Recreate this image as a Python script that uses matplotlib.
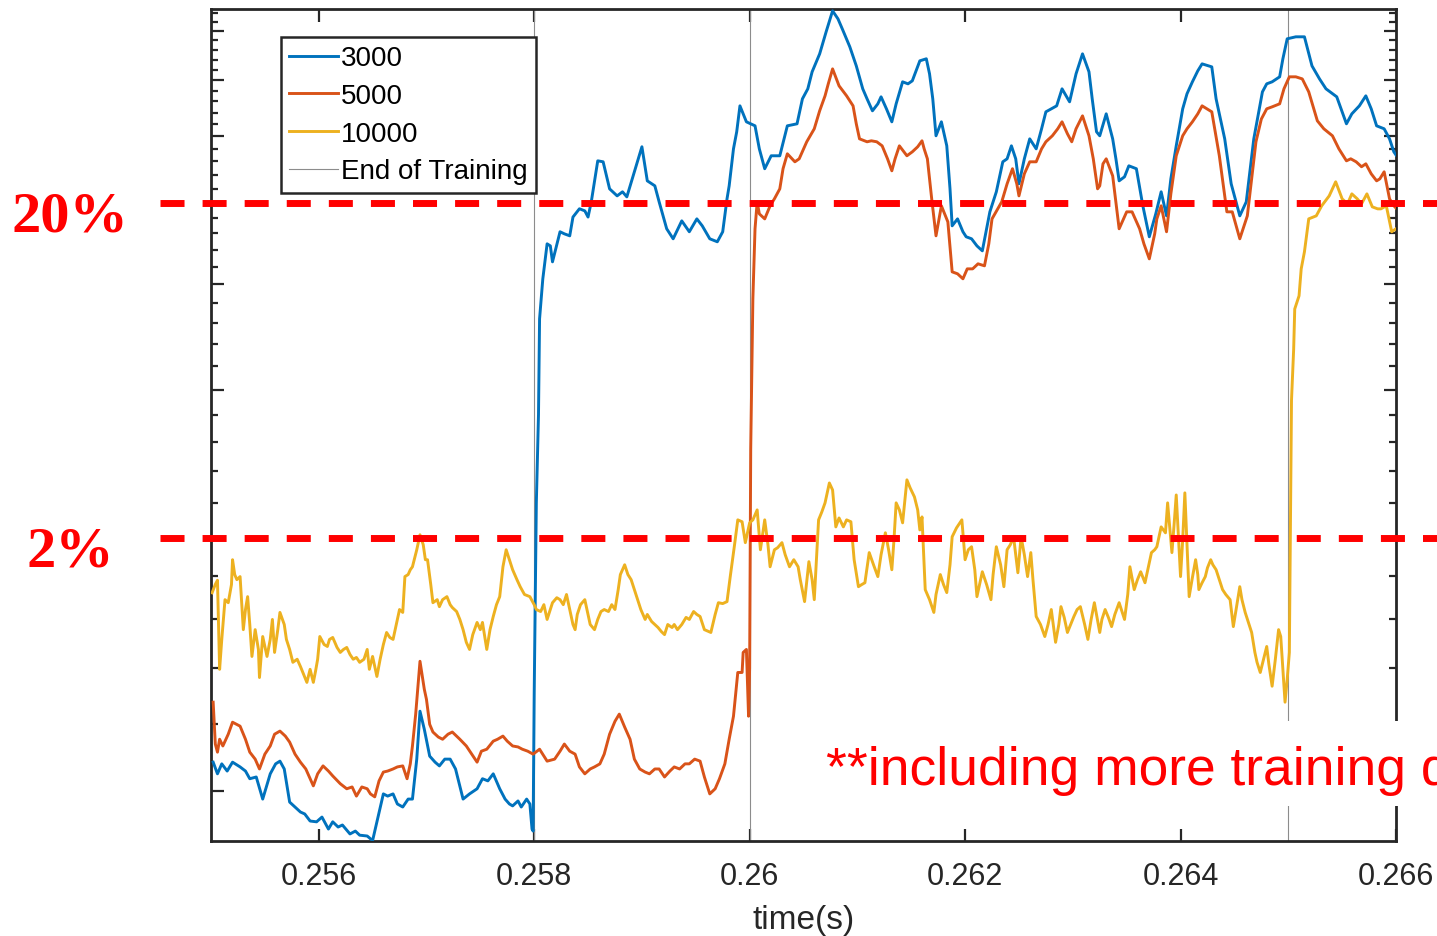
import numpy as np
import matplotlib
matplotlib.use('Agg')
import matplotlib.pyplot as plt
from matplotlib import transforms
from matplotlib.patches import Rectangle
from matplotlib.ticker import FixedLocator, NullFormatter, NullLocator

# (time [s], value) samples for each training size
pts_3000 = [
    (0.25502, 1.082), (0.25506, 1.048), (0.25510, 1.077), (0.25515, 1.056), (0.25520, 1.082), (0.25527, 1.068),
    (0.25532, 1.056), (0.25536, 1.034), (0.25542, 1.039), (0.25548, 0.978), (0.25555, 1.048), (0.25560, 1.077),
    (0.25564, 1.085), (0.25568, 1.062), (0.25573, 0.970), (0.25578, 0.957), (0.25583, 0.944), (0.25587, 0.939),
    (0.25592, 0.921), (0.25598, 0.919), (0.25603, 0.931), (0.25609, 0.901), (0.25613, 0.919), (0.25618, 0.906),
    (0.25622, 0.911), (0.25629, 0.889), (0.25634, 0.896), (0.25638, 0.886), (0.25645, 0.884), (0.25650, 0.873),
    (0.25655, 0.931), (0.25660, 0.992), (0.25664, 0.986), (0.25669, 0.992), (0.25673, 0.965), (0.25678, 0.957),
    (0.25683, 0.978), (0.25687, 0.978), (0.25691, 1.091), (0.25694, 1.244), (0.25698, 1.184), (0.25703, 1.100),
    (0.25708, 1.082), (0.25712, 1.071), (0.25717, 1.091), (0.25722, 1.091), (0.25727, 1.062), (0.25734, 0.978),
    (0.25740, 0.992), (0.25747, 1.006), (0.25752, 1.034), (0.25757, 1.028), (0.25762, 1.048), (0.25768, 1.006),
    (0.25773, 0.978), (0.25777, 0.965), (0.25780, 0.960), (0.25785, 0.973), (0.25788, 0.957), (0.25793, 0.978),
    (0.25796, 0.965), (0.25798, 0.901), (0.25799, 0.896), (0.25800, 1.30), (0.25802, 2.20), (0.25804, 2.80),
    (0.25805, 3.64), (0.25808, 4.06), (0.25812, 4.47), (0.25815, 4.445), (0.25817, 4.255), (0.25820, 4.41),
    (0.25824, 4.62), (0.25828, 4.594), (0.25833, 4.569), (0.25836, 4.81), (0.25842, 4.92), (0.25847, 4.892),
    (0.25850, 4.81), (0.25853, 5.014), (0.25859, 5.61), (0.25864, 5.595), (0.25870, 5.196), (0.25877, 5.097),
    (0.25882, 5.154), (0.25886, 5.083), (0.25891, 5.34), (0.25900, 5.83), (0.25905, 5.311), (0.25912, 5.239),
    (0.25916, 5.014), (0.25923, 4.658), (0.25929, 4.532), (0.25937, 4.760), (0.25944, 4.62), (0.25951, 4.786),
    (0.25956, 4.696), (0.25963, 4.532), (0.25970, 4.495), (0.25975, 4.62), (0.25979, 5.056), (0.25981, 5.239),
    (0.25985, 5.797), (0.25988, 6.074), (0.25991, 6.521), (0.25997, 6.242), (0.26005, 6.174), (0.26009, 5.797),
    (0.26014, 5.49), (0.26020, 5.688), (0.26028, 5.688), (0.26032, 5.958), (0.26035, 6.174), (0.26044, 6.208),
    (0.26049, 6.647), (0.26054, 6.832), (0.26058, 7.157), (0.26065, 7.518), (0.26071, 7.985), (0.26077, 8.457),
    (0.26082, 8.274), (0.26086, 8.05), (0.26093, 7.664), (0.26099, 7.275), (0.26105, 6.832), (0.26109, 6.647),
    (0.26114, 6.433), (0.26119, 6.557), (0.26122, 6.684), (0.26127, 6.468), (0.26132, 6.242), (0.26136, 6.557),
    (0.26142, 6.964), (0.26147, 6.926), (0.26151, 6.983), (0.26158, 7.376), (0.26164, 7.417), (0.26167, 7.118),
    (0.26170, 6.647), (0.26173, 6.008), (0.26178, 6.242), (0.26183, 5.845), (0.26186, 5.196), (0.26188, 4.696),
    (0.26193, 4.786), (0.26198, 4.62), (0.26201, 4.557), (0.26206, 4.532), (0.26211, 4.445), (0.26216, 4.385),
    (0.26223, 4.879), (0.26229, 5.154), (0.26235, 5.595), (0.26239, 5.641), (0.26243, 5.845), (0.26247, 5.641),
    (0.26250, 5.268), (0.26255, 5.641), (0.26260, 5.958), (0.26266, 5.797), (0.26271, 6.124), (0.26275, 6.415),
    (0.26280, 6.468), (0.26285, 6.521), (0.26290, 6.832), (0.26297, 6.593), (0.26303, 7.118), (0.26309, 7.518),
    (0.26315, 7.157), (0.26318, 6.647), (0.26322, 6.074), (0.26325, 6.008), (0.26331, 6.38), (0.26337, 5.958),
    (0.26340, 5.641), (0.26343, 5.311), (0.26348, 5.37), (0.26352, 5.534), (0.26359, 5.49), (0.26365, 4.96),
    (0.26371, 4.557), (0.26377, 4.852), (0.26382, 5.154), (0.26387, 4.826), (0.26391, 5.34), (0.26396, 5.845),
    (0.26402, 6.468), (0.26406, 6.74), (0.26411, 6.964), (0.26416, 7.176), (0.26420, 7.315), (0.26429, 7.255),
    (0.26433, 6.647), (0.26441, 5.958), (0.26447, 5.268), (0.26455, 4.826), (0.26461, 5.014), (0.26468, 5.958),
    (0.26476, 6.775), (0.26480, 6.926), (0.26485, 6.964), (0.26492, 7.06), (0.26495, 7.417), (0.26499, 7.834),
    (0.26507, 7.877), (0.26515, 7.877), (0.26522, 7.275), (0.26529, 7.02), (0.26535, 6.832), (0.26545, 6.684),
    (0.26549, 6.468), (0.26554, 6.208), (0.26559, 6.38), (0.26566, 6.521), (0.26572, 6.702), (0.26577, 6.468),
    (0.26582, 6.174), (0.26589, 6.124), (0.26594, 5.958), (0.26598, 5.75), (0.26600, 5.70),
]

pts_5000 = [
    (0.25502, 1.275), (0.25504, 1.137), (0.25506, 1.112), (0.25508, 1.152), (0.25511, 1.131), (0.25516, 1.168),
    (0.25520, 1.207), (0.25527, 1.194), (0.25532, 1.152), (0.25536, 1.112), (0.25541, 1.091), (0.25545, 1.062),
    (0.25550, 1.106), (0.25555, 1.131), (0.25559, 1.168), (0.25564, 1.178), (0.25569, 1.162), (0.25573, 1.143),
    (0.25578, 1.106), (0.25583, 1.082), (0.25588, 1.062), (0.25595, 1.014), (0.25599, 1.048), (0.25604, 1.071),
    (0.25609, 1.056), (0.25613, 1.042), (0.25620, 1.020), (0.25626, 1.006), (0.25631, 1.011), (0.25635, 0.986),
    (0.25640, 1.011), (0.25645, 1.006), (0.25648, 0.992), (0.25652, 0.984), (0.25656, 1.028), (0.25660, 1.053),
    (0.25664, 1.056), (0.25669, 1.062), (0.25673, 1.068), (0.25678, 1.071), (0.25682, 1.034), (0.25685, 1.077),
    (0.25687, 1.131), (0.25690, 1.234), (0.25694, 1.426), (0.25698, 1.321), (0.25700, 1.285), (0.25703, 1.200),
    (0.25706, 1.175), (0.25711, 1.159), (0.25715, 1.152), (0.25720, 1.168), (0.25724, 1.175), (0.25731, 1.152),
    (0.25737, 1.131), (0.25742, 1.106), (0.25747, 1.082), (0.25751, 1.115), (0.25756, 1.121), (0.25762, 1.146),
    (0.25766, 1.152), (0.25771, 1.162), (0.25775, 1.146), (0.25780, 1.131), (0.25785, 1.128), (0.25789, 1.121),
    (0.25794, 1.115), (0.25799, 1.106), (0.25805, 1.121), (0.25812, 1.085), (0.25819, 1.091), (0.25824, 1.115),
    (0.25828, 1.137), (0.25833, 1.115), (0.25838, 1.106), (0.25842, 1.068), (0.25847, 1.048), (0.25852, 1.062),
    (0.25856, 1.068), (0.25861, 1.077), (0.25865, 1.106), (0.25870, 1.168), (0.25875, 1.210), (0.25879, 1.234),
    (0.25884, 1.191), (0.25889, 1.152), (0.25893, 1.091), (0.25898, 1.062), (0.25903, 1.053), (0.25907, 1.048),
    (0.25912, 1.062), (0.25916, 1.062), (0.25921, 1.039), (0.25926, 1.056), (0.25930, 1.068), (0.25935, 1.062),
    (0.25940, 1.077), (0.25944, 1.077), (0.25949, 1.091), (0.25954, 1.085), (0.25958, 1.039), (0.25963, 0.992),
    (0.25968, 1.006), (0.25972, 1.034), (0.25977, 1.077), (0.25981, 1.152), (0.25985, 1.227), (0.25989, 1.383),
    (0.25993, 1.383), (0.25994, 1.461), (0.25997, 1.473), (0.25999, 1.227), (0.26000, 1.40), (0.26001, 2.55),
    (0.26003, 3.845), (0.26005, 4.658), (0.26007, 5.014), (0.26009, 4.852), (0.26014, 4.786), (0.26019, 4.96),
    (0.26023, 5.056), (0.26028, 5.196), (0.26031, 5.49), (0.26035, 5.719), (0.26042, 5.595), (0.26046, 5.641),
    (0.26053, 5.91), (0.26060, 6.124), (0.26065, 6.433), (0.26070, 6.702), (0.26073, 6.926), (0.26077, 7.215),
    (0.26083, 6.888), (0.26090, 6.702), (0.26096, 6.521), (0.26099, 6.208), (0.26102, 5.958), (0.26109, 5.91),
    (0.26113, 5.926), (0.26118, 5.91), (0.26123, 5.845), (0.26128, 5.641), (0.26132, 5.459), (0.26135, 5.641),
    (0.26139, 5.845), (0.26146, 5.688), (0.26151, 5.75), (0.26156, 5.83), (0.26160, 5.926), (0.26162, 5.797),
    (0.26165, 5.641), (0.26169, 5.056), (0.26173, 4.569), (0.26178, 4.96), (0.26184, 4.747), (0.26188, 4.14),
    (0.26193, 4.118), (0.26198, 4.062), (0.26202, 4.174), (0.26207, 4.174), (0.26212, 4.232), (0.26218, 4.209),
    (0.26222, 4.47), (0.26225, 4.786), (0.26234, 5.014), (0.26239, 5.268), (0.26244, 5.49), (0.26248, 5.268),
    (0.26250, 5.097), (0.26255, 5.414), (0.26260, 5.595), (0.26266, 5.595), (0.26271, 5.797), (0.26275, 5.91),
    (0.26281, 6.008), (0.26286, 6.124), (0.26290, 6.242), (0.26295, 6.041), (0.26299, 5.91), (0.26303, 6.124),
    (0.26309, 6.345), (0.26315, 6.008), (0.26319, 5.641), (0.26323, 5.196), (0.26325, 5.239), (0.26328, 5.564),
    (0.26331, 5.641), (0.26337, 5.384), (0.26343, 4.658), (0.26350, 4.879), (0.26355, 4.879), (0.26362, 4.658),
    (0.26366, 4.47), (0.26371, 4.29), (0.26376, 4.594), (0.26378, 4.786), (0.26382, 4.96), (0.26387, 4.62),
    (0.26391, 5.125), (0.26396, 5.688), (0.26402, 6.008), (0.26406, 6.124), (0.26411, 6.242), (0.26416, 6.38),
    (0.26420, 6.521), (0.26429, 6.415), (0.26436, 5.688), (0.26443, 4.879), (0.26448, 4.879), (0.26455, 4.532),
    (0.26462, 4.826), (0.26466, 5.34), (0.26470, 5.91), (0.26475, 6.29), (0.26480, 6.468), (0.26485, 6.503),
    (0.26492, 6.557), (0.26496, 6.832), (0.26501, 7.06), (0.26507, 7.06), (0.26513, 7.02), (0.26519, 6.775),
    (0.26527, 6.259), (0.26533, 6.124), (0.26541, 6.008), (0.26547, 5.797), (0.26554, 5.61), (0.26558, 5.641),
    (0.26563, 5.595), (0.26568, 5.52), (0.26572, 5.564), (0.26577, 5.414), (0.26582, 5.311), (0.26585, 5.34),
    (0.26589, 5.444), (0.26594, 5.056), (0.26598, 4.96), (0.26600, 4.93),
]

pts_10000 = [
    (0.25501, 1.72), (0.25504, 1.76), (0.25506, 1.78), (0.25508, 1.395), (0.25510, 1.514), (0.25513, 1.688),
    (0.25516, 1.674), (0.25519, 1.759), (0.25520, 1.883), (0.25522, 1.808), (0.25524, 1.783), (0.25527, 1.798),
    (0.25530, 1.555), (0.25532, 1.643), (0.25534, 1.702), (0.25536, 1.577), (0.25538, 1.445), (0.25541, 1.555),
    (0.25544, 1.473), (0.25545, 1.364), (0.25548, 1.526), (0.25552, 1.445), (0.25555, 1.514), (0.25557, 1.599),
    (0.25559, 1.461), (0.25562, 1.555), (0.25564, 1.630), (0.25568, 1.577), (0.25570, 1.514), (0.25573, 1.473),
    (0.25576, 1.422), (0.25580, 1.434), (0.25583, 1.406), (0.25586, 1.376), (0.25589, 1.346), (0.25592, 1.395),
    (0.25595, 1.346), (0.25597, 1.387), (0.25599, 1.434), (0.25601, 1.526), (0.25605, 1.493), (0.25608, 1.485),
    (0.25610, 1.514), (0.25613, 1.522), (0.25617, 1.481), (0.25620, 1.461), (0.25623, 1.473), (0.25626, 1.481),
    (0.25629, 1.453), (0.25632, 1.434), (0.25635, 1.441), (0.25638, 1.422), (0.25642, 1.434), (0.25645, 1.473),
    (0.25647, 1.395), (0.25650, 1.445), (0.25654, 1.368), (0.25657, 1.434), (0.25660, 1.493), (0.25663, 1.543),
    (0.25666, 1.522), (0.25669, 1.514), (0.25672, 1.577), (0.25675, 1.643), (0.25678, 1.630), (0.25680, 1.798),
    (0.25683, 1.808), (0.25685, 1.832), (0.25687, 1.847), (0.25691, 1.935), (0.25694, 2.016), (0.25697, 1.962),
    (0.25699, 1.883), (0.25701, 1.883), (0.25704, 1.759), (0.25706, 1.674), (0.25710, 1.688), (0.25712, 1.656),
    (0.25715, 1.688), (0.25719, 1.702), (0.25722, 1.665), (0.25724, 1.652), (0.25728, 1.634), (0.25731, 1.599),
    (0.25734, 1.555), (0.25737, 1.502), (0.25740, 1.473), (0.25743, 1.534), (0.25747, 1.586), (0.25750, 1.555),
    (0.25752, 1.586), (0.25756, 1.473), (0.25759, 1.555), (0.25762, 1.612), (0.25765, 1.665), (0.25768, 1.702),
    (0.25771, 1.847), (0.25774, 1.935), (0.25777, 1.883), (0.25780, 1.832), (0.25784, 1.783), (0.25787, 1.749),
    (0.25791, 1.712), (0.25796, 1.702), (0.25800, 1.665), (0.25802, 1.643), (0.25806, 1.634), (0.25809, 1.665),
    (0.25812, 1.599), (0.25815, 1.643), (0.25817, 1.674), (0.25821, 1.697), (0.25824, 1.688), (0.25827, 1.665),
    (0.25830, 1.712), (0.25833, 1.643), (0.25836, 1.577), (0.25838, 1.555), (0.25840, 1.621), (0.25843, 1.665),
    (0.25847, 1.688), (0.25850, 1.621), (0.25852, 1.577), (0.25856, 1.555), (0.25859, 1.599), (0.25862, 1.634),
    (0.25865, 1.643), (0.25869, 1.634), (0.25872, 1.665), (0.25875, 1.643), (0.25878, 1.735), (0.25880, 1.808),
    (0.25884, 1.857), (0.25887, 1.808), (0.25890, 1.783), (0.25893, 1.735), (0.25896, 1.688), (0.25899, 1.643),
    (0.25903, 1.599), (0.25905, 1.621), (0.25909, 1.590), (0.25912, 1.577), (0.25915, 1.564), (0.25918, 1.547),
    (0.25921, 1.534), (0.25924, 1.577), (0.25928, 1.564), (0.25930, 1.577), (0.25933, 1.555), (0.25937, 1.577),
    (0.25941, 1.608), (0.25944, 1.599), (0.25948, 1.634), (0.25951, 1.621), (0.25954, 1.612), (0.25958, 1.555),
    (0.25964, 1.543), (0.25968, 1.621), (0.25971, 1.674), (0.25975, 1.670), (0.25979, 1.679), (0.25982, 1.798),
    (0.25986, 1.962), (0.25989, 2.100), (0.25993, 2.089), (0.25996, 1.973), (0.26000, 2.083), (0.26003, 2.100),
    (0.26007, 2.158), (0.26010, 1.935), (0.26014, 2.100), (0.26017, 1.962), (0.26019, 1.847), (0.26023, 1.935),
    (0.26026, 1.946), (0.26030, 1.973), (0.26033, 1.909), (0.26037, 1.847), (0.26041, 1.883), (0.26045, 1.847),
    (0.26047, 1.783), (0.26051, 1.679), (0.26055, 1.873), (0.26058, 1.783), (0.26060, 1.688), (0.26064, 2.100),
    (0.26067, 2.146), (0.26070, 2.200), (0.26074, 2.323), (0.26077, 2.279), (0.26080, 2.060), (0.26083, 2.111),
    (0.26087, 2.060), (0.26090, 2.100), (0.26094, 2.089), (0.26097, 1.883), (0.26101, 1.749), (0.26104, 1.759),
    (0.26107, 1.768), (0.26111, 1.920), (0.26115, 1.857), (0.26119, 1.798), (0.26122, 1.909), (0.26126, 2.027),
    (0.26129, 1.935), (0.26132, 1.832), (0.26134, 1.989), (0.26136, 2.200), (0.26139, 2.158), (0.26142, 2.083),
    (0.26146, 2.343), (0.26149, 2.292), (0.26153, 2.236), (0.26156, 2.158), (0.26158, 2.043), (0.26160, 2.117),
    (0.26163, 1.735), (0.26167, 1.688), (0.26171, 1.630), (0.26173, 1.712), (0.26177, 1.808), (0.26180, 1.759),
    (0.26183, 1.721), (0.26186, 1.857), (0.26188, 2.005), (0.26192, 2.054), (0.26197, 2.100), (0.26200, 1.883),
    (0.26203, 1.935), (0.26206, 1.951), (0.26209, 1.832), (0.26211, 1.702), (0.26216, 1.822), (0.26220, 1.759),
    (0.26224, 1.688), (0.26226, 1.808), (0.26229, 1.951), (0.26233, 1.857), (0.26236, 1.749), (0.26239, 1.935),
    (0.26242, 1.962), (0.26245, 2.005), (0.26249, 1.817), (0.26252, 2.005), (0.26255, 1.909), (0.26258, 1.798),
    (0.26261, 1.920), (0.26263, 1.783), (0.26266, 1.612), (0.26270, 1.577), (0.26274, 1.526), (0.26277, 1.577),
    (0.26280, 1.643), (0.26284, 1.502), (0.26287, 1.577), (0.26289, 1.656), (0.26292, 1.608), (0.26295, 1.543),
    (0.26298, 1.577), (0.26301, 1.612), (0.26304, 1.643), (0.26307, 1.656), (0.26311, 1.577), (0.26314, 1.514),
    (0.26317, 1.599), (0.26320, 1.674), (0.26325, 1.543), (0.26327, 1.599), (0.26330, 1.643), (0.26333, 1.608),
    (0.26336, 1.568), (0.26339, 1.621), (0.26343, 1.674), (0.26348, 1.599), (0.26351, 1.712), (0.26353, 1.847),
    (0.26357, 1.735), (0.26360, 1.783), (0.26363, 1.822), (0.26367, 1.768), (0.26370, 1.842), (0.26373, 1.920),
    (0.26376, 1.935), (0.26378, 1.951), (0.26382, 2.060), (0.26386, 2.027), (0.26388, 2.200), (0.26390, 2.054),
    (0.26392, 1.920), (0.26394, 2.072), (0.26396, 2.248), (0.26398, 2.016), (0.26400, 1.798), (0.26402, 1.989),
    (0.26404, 2.261), (0.26406, 1.962), (0.26408, 1.702), (0.26411, 1.793), (0.26414, 1.883), (0.26416, 1.808),
    (0.26417, 1.735), (0.26420, 1.768), (0.26423, 1.798), (0.26425, 1.842), (0.26428, 1.883), (0.26430, 1.857),
    (0.26433, 1.832), (0.26436, 1.783), (0.26439, 1.735), (0.26442, 1.712), (0.26446, 1.688), (0.26449, 1.568),
    (0.26452, 1.656), (0.26455, 1.749), (0.26457, 1.688), (0.26460, 1.630), (0.26463, 1.586), (0.26466, 1.543),
    (0.26469, 1.461), (0.26471, 1.422), (0.26474, 1.383), (0.26477, 1.434), (0.26480, 1.485), (0.26482, 1.414),
    (0.26485, 1.332), (0.26488, 1.434), (0.26491, 1.555), (0.26493, 1.526), (0.26495, 1.395), (0.26497, 1.275),
    (0.26499, 1.357), (0.26501, 1.461), (0.26502, 2.100), (0.26503, 2.914), (0.26505, 3.35), (0.26506, 3.74),
    (0.26510, 3.877), (0.26512, 4.174), (0.26515, 4.373), (0.26519, 4.786), (0.26526, 4.826), (0.26531, 4.96),
    (0.26538, 5.097), (0.26544, 5.297), (0.26550, 5.056), (0.26555, 4.987), (0.26559, 5.125), (0.26564, 5.056),
    (0.26568, 4.987), (0.26573, 5.125), (0.26578, 4.946), (0.26583, 4.919), (0.26586, 4.919), (0.26591, 4.96),
    (0.26596, 4.62), (0.26600, 4.658),
]

series_names = ['3000', '5000', '10000']
series_colors = ['#0072BD', '#D95319', '#EDB120']
end_training = [0.258, 0.260, 0.265]
thresholds = [5.0, 2.0]
threshold_labels = ['20%', '2%']
xticks = [0.256, 0.258, 0.260, 0.262, 0.264, 0.266]
xtick_labels = ['0.256', '0.258', '0.26', '0.262', '0.264', '0.266']
note = '**including more training data'

plt.rcParams['font.family'] = 'Liberation Sans'
plt.rcParams['lines.scale_dashes'] = False

W, H = 1437, 937
fig = plt.figure(figsize=(W / 100, H / 100), dpi=100)
ax = fig.add_axes([211 / W, 95 / H, 1185 / W, 832 / H])

for pts, name, col in zip([pts_3000, pts_5000, pts_10000], series_names, series_colors):
    t, v = np.array(pts).T
    ax.plot(t, v, color=col, lw=2.1, label=name, zorder=3)

for i, xe in enumerate(end_training):
    ax.axvline(xe, color='#8c8c8c', lw=0.8, zorder=2,
               label='End of Training' if i == 0 else '_nolegend_')

ax.set_yscale('log')
ax.set_xlim(0.255, 0.266)
ax.set_ylim(0.872, 8.50)

# linear-looking ticks on the log axis, no labels
ax.yaxis.set_major_locator(FixedLocator(np.arange(1, 9)))
minor = [m for m in np.arange(1.2, 8.5, 0.2) if abs(m - round(m)) > 0.05]
ax.yaxis.set_minor_locator(FixedLocator(minor))
ax.yaxis.set_major_formatter(NullFormatter())
ax.yaxis.set_minor_formatter(NullFormatter())

ax.set_xticks(xticks)
ax.set_xticklabels(xtick_labels)
ax.xaxis.set_minor_locator(NullLocator())

ax.tick_params(which='both', direction='in', top=True, right=True, color='#262626', width=1.6)
ax.tick_params(which='major', length=9)
ax.tick_params(which='minor', length=5)
ax.tick_params(axis='x', labelsize=22, pad=14.5, labelcolor='#262626')
for s in ax.spines.values():
    s.set_linewidth(2.0)
    s.set_color('#262626')

ax.set_xlabel('time(s)', fontsize=24, color='#262626', labelpad=9)

leg = ax.legend(loc='upper left', bbox_to_anchor=(70 / 1185, (842 - 38) / 832), borderaxespad=0,
                fontsize=20, frameon=True, fancybox=False, edgecolor='#262626', framealpha=1,
                handlelength=1.75, handletextpad=0.1, labelspacing=0.42, borderpad=0.3)
leg.get_frame().set_linewidth(1.8)

# threshold lines run past the axes to the labels on the left
for yv, lab in zip(thresholds, threshold_labels):
    ax.axhline(yv, xmin=(160 - 211) / 1185, xmax=(W - 211) / 1185, color='red', lw=5,
               dashes=(17.3, 13), clip_on=False, zorder=6)
    trans = transforms.blended_transform_factory(fig.transFigure, ax.transData)
    trans = transforms.offset_copy(trans, fig=fig, y=-28, units='dots')
    ax.text(70 / W, yv, lab, transform=trans, ha='center', va='baseline', fontsize=42,
            fontweight='bold', family='Liberation Serif', color='red')

fig.add_artist(Rectangle((818 / W, 130 / H), 1 - 818 / W, 85 / H, transform=fig.transFigure,
                         facecolor='white', edgecolor='none', zorder=3))
fig.text(826 / W, (H - 785) / H, note, fontsize=38.4, color='red', ha='left', va='baseline', zorder=4)

fig.savefig('out.png', dpi=100)
